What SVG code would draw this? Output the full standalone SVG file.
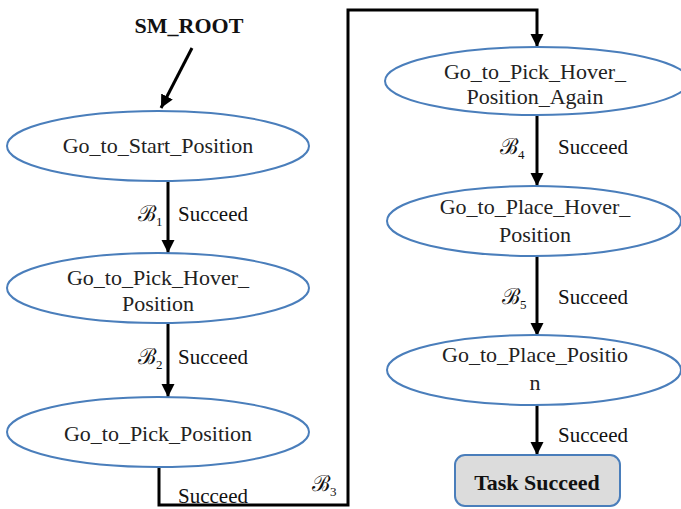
<svg xmlns="http://www.w3.org/2000/svg" width="681" height="509" viewBox="0 0 681 509">
  <defs>
    <marker id="arrow" markerUnits="userSpaceOnUse" markerWidth="14" markerHeight="16" refX="13" refY="6.5" orient="auto">
      <path d="M0,0 L13,6.5 L0,13 Z" fill="#000"/>
    </marker>
    <style>
      .state { fill: #fff; stroke: #4a7ebb; stroke-width: 2; }
      .label { font-family: "Liberation Serif", "Times New Roman", serif; font-size: 22px; fill: #222; text-anchor: middle; }
      .edge { fill: none; stroke: #000; stroke-width: 3; }
      .cond { font-family: "Liberation Serif", "Times New Roman", serif; font-size: 21px; fill: #111; }
      .beh { font-family: "DejaVu Serif", "Liberation Serif", serif; font-size: 22px; fill: #111; }
      .sub { font-family: "Liberation Serif", serif; font-size: 13px; }
    </style>
  </defs>
  <rect width="681" height="509" fill="#fff"/>

  <!-- root entry -->
  <text id="sm-root" x="189" y="33" font-family="Liberation Serif, Times New Roman, serif" font-size="22" font-weight="bold" text-anchor="middle" fill="#111">SM_ROOT</text>

  <!-- transitions -->
  <g id="connectors">
    <path class="edge" d="M192,48 L161,108" marker-end="url(#arrow)"/>
    <path class="edge" d="M168,181 L168,253" marker-end="url(#arrow)"/>
    <path class="edge" d="M168,323 L168,397" marker-end="url(#arrow)"/>
    <path class="edge" d="M159,467 L159,505 L348,505 L348,10 L537,10 L537,47" marker-end="url(#arrow)"/>
    <path class="edge" d="M537,115 L537,186" marker-end="url(#arrow)"/>
    <path class="edge" d="M537,256 L537,336" marker-end="url(#arrow)"/>
    <path class="edge" d="M537,405 L537,455" marker-end="url(#arrow)"/>

    <text class="cond" x="178" y="221">Succeed</text>
    <text class="cond" x="178" y="364">Succeed</text>
    <text class="cond" x="178" y="503">Succeed</text>
    <text class="cond" x="558" y="154">Succeed</text>
    <text class="cond" x="558" y="304">Succeed</text>
    <text class="cond" x="558" y="442">Succeed</text>

    <text class="beh" x="138" y="221">ℬ<tspan class="sub" dy="5">1</tspan></text>
    <text class="beh" x="138" y="364">ℬ<tspan class="sub" dy="5">2</tspan></text>
    <text class="beh" x="312" y="491">ℬ<tspan class="sub" dy="5">3</tspan></text>
    <text class="beh" x="500" y="154">ℬ<tspan class="sub" dy="5">4</tspan></text>
    <text class="beh" x="502" y="304">ℬ<tspan class="sub" dy="5">5</tspan></text>
  </g>

  <!-- left column -->
  <g id="go-to-start-position">
    <ellipse class="state" cx="158" cy="146" rx="151" ry="35"/>
    <text class="label" x="158" y="153">Go_to_Start_Position</text>
  </g>
  <g id="go-to-pick-hover-position">
    <ellipse class="state" cx="158" cy="288" rx="151" ry="35"/>
    <text class="label" x="158" y="285">Go_to_Pick_Hover_</text>
    <text class="label" x="158" y="311">Position</text>
  </g>
  <g id="go-to-pick-position">
    <ellipse class="state" cx="158" cy="432" rx="151" ry="35"/>
    <text class="label" x="158" y="441">Go_to_Pick_Position</text>
  </g>

  <!-- right column -->
  <g id="go-to-pick-hover-position-again">
    <ellipse class="state" cx="537" cy="81" rx="152" ry="34"/>
    <text class="label" x="535" y="79">Go_to_Pick_Hover_</text>
    <text class="label" x="535" y="104">Position_Again</text>
  </g>
  <g id="go-to-place-hover-position">
    <ellipse class="state" cx="534" cy="221" rx="147" ry="35"/>
    <text class="label" x="535" y="214">Go_to_Place_Hover_</text>
    <text class="label" x="535" y="242">Position</text>
  </g>
  <g id="go-to-place-position">
    <ellipse class="state" cx="534" cy="370" rx="147" ry="35"/>
    <text class="label" x="535" y="362">Go_to_Place_Positio</text>
    <text class="label" x="535" y="390">n</text>
  </g>
  <g id="task-succeed">
    <rect x="455" y="455" width="165" height="51" rx="10" ry="10" fill="#dcdcdc" stroke="#4a7ebb" stroke-width="2"/>
    <text x="537" y="490" font-family="Liberation Serif, Times New Roman, serif" font-size="22" font-weight="bold" text-anchor="middle" fill="#111">Task Succeed</text>
  </g>
</svg>
